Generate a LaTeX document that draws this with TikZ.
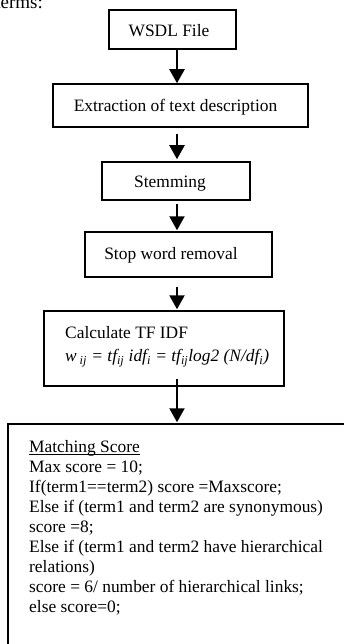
\documentclass[tikz,border=0pt]{standalone}
\usepackage{fontspec}
\setmainfont{Liberation Serif}
\usetikzlibrary{arrows.meta}
\newcommand\fsz{\fontsize{17.4}{20}\selectfont}
\tikzset{
  box/.style={draw, line width=1.5pt, inner sep=0pt},
  arr/.style={line width=2.2pt, -{Triangle[width=15pt,length=14pt]}},
  txt/.style={inner sep=0pt, font=\fsz},
}
\begin{document}
\begin{tikzpicture}[x=1pt,y=-1pt]
\useasboundingbox (0,0) rectangle (344,644);
\clip (0,0) rectangle (344,644);
% fragment of surrounding page text
\node[txt, anchor=base east, font=\fontsize{19}{20}\selectfont] (frag) at (43,8.5) {terms:};
% boxes
\node[box, minimum width=127pt, minimum height=39pt] (wsdl) at (172.5,29.5) {};
\node[box, minimum width=255pt, minimum height=43pt] (extr) at (180.5,105.5) {};
\node[box, minimum width=148pt, minimum height=38pt] (stem) at (176,181) {};
\node[box, minimum width=187pt, minimum height=45pt] (stop) at (178.5,254.5) {};
\node[box, minimum width=240pt, minimum height=75pt] (calc) at (164,348.5) {};
\node[box, minimum width=352pt, minimum height=246pt] (match) at (184,547) {};
% texts
\node[txt, anchor=base] (t1) at (169,36.7) {WSDL File};
\node[txt, anchor=base] (t2) at (175.5,111.7) {Extraction of text description};
\node[txt, anchor=base] (t3) at (170,188) {Stemming};
\node[txt, anchor=base] (t4) at (171,259.3) {Stop word removal};
\node[txt, anchor=base west] (t5a) at (65,338.3) {Calculate TF IDF};
\node[txt, anchor=base west] (t5b) at (65,361.7) {\textit{w\,\textsubscript{ij} = tf\textsubscript{ij} idf\textsubscript{i} = tf\textsubscript{ij}log2 (N/df\textsubscript{i})}};
\node[txt, anchor=base west] (m1) at (29,452.5) {Matching Score};
\draw[line width=0.9pt] ([yshift=-2pt]m1.base west) -- ([yshift=-2pt]m1.base east);
\node[txt, anchor=base west] (m2) at (29,472.5) {Max score = 10;};
\node[txt, anchor=base west] (m3) at (29,492.5) {If(term1==term2) score =Maxscore;};
\node[txt, anchor=base west] (m4) at (29,512.5) {Else if (term1 and term2 are synonymous)};
\node[txt, anchor=base west] (m5) at (29,532.5) {score =8;};
\node[txt, anchor=base west] (m6) at (29,552.5) {Else if (term1 and term2 have hierarchical};
\node[txt, anchor=base west] (m7) at (29,572.5) {relations)};
\node[txt, anchor=base west] (m8) at (29,592.5) {score = 6/ number of hierarchical links;};
\node[txt, anchor=base west] (m9) at (29,612.5) {else score=0;};
% arrows
\coordinate (ax) at (177,0);
\draw[arr] (wsdl.south -| ax) -- (extr.north -| ax);
\draw[arr, shorten <=6pt, shorten >=2pt] (extr.south -| ax) -- (stem.north -| ax);
\draw[arr, shorten <=3pt, shorten >=1pt] (stem.south -| ax) -- (stop.north -| ax);
\draw[arr, shorten <=9pt, shorten >=1pt] (stop.south -| ax) -- (calc.north -| ax);
\draw[arr, shorten <=-8pt, shorten >=1pt] (calc.south -| ax) -- (match.north -| ax);
\end{tikzpicture}
\end{document}
